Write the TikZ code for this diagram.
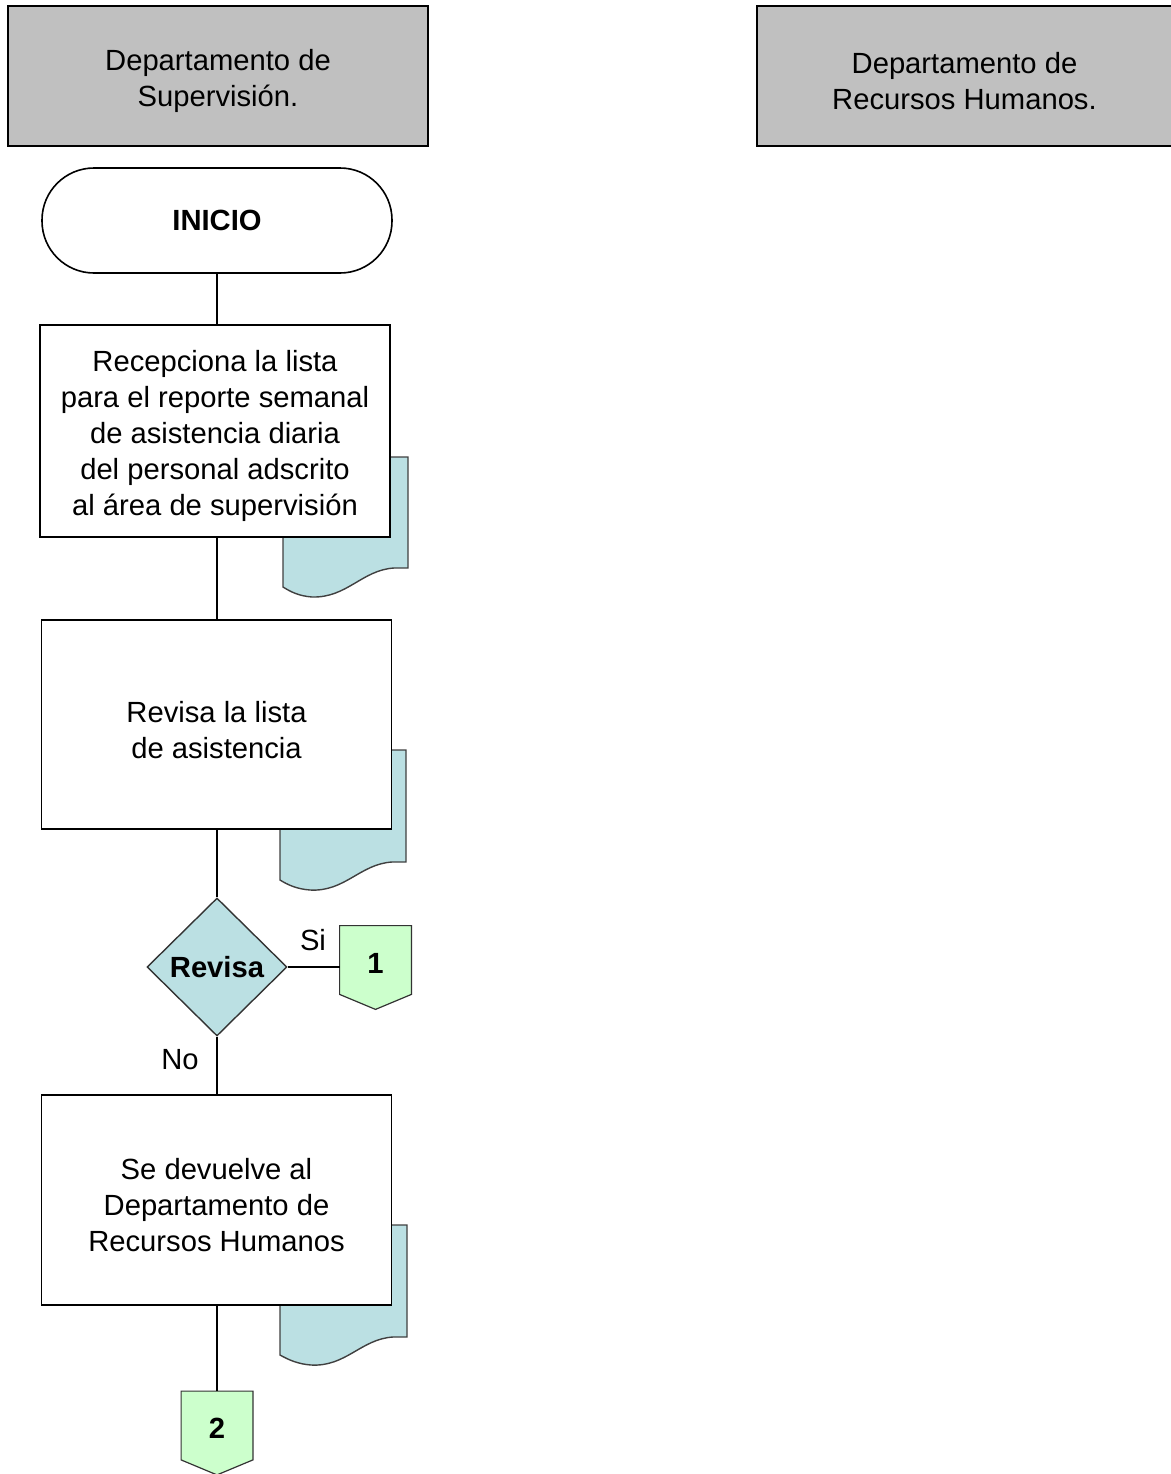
\documentclass[tikz,border=0pt]{standalone}
\usepackage{fontspec}
\setmainfont{Liberation Sans}
\usetikzlibrary{shapes.geometric}
\definecolor{hdrgray}{HTML}{C0C0C0}
\definecolor{docblue}{HTML}{BBE0E3}
\definecolor{offgreen}{HTML}{CCFFCC}

% extra head room on the first line of a block, to sit the text a bit lower
\newcommand\padtop{\rule{0pt}{15.8pt}}

\tikzset{
  txt/.style={font=\fontsize{14.6}{18}\selectfont, align=center},
  header/.style={txt, draw=black, line width=0.9pt, fill=hdrgray, minimum height=70pt, inner sep=0pt},
  procbox/.style={txt, draw=black, line width=0.8pt, fill=white, minimum width=175pt, inner sep=0pt},
  terminal/.style={txt, font=\fontsize{14.6}{18}\selectfont\bfseries, draw=black, line width=0.8pt, fill=white,
    minimum width=175pt, minimum height=52.5pt, rounded corners=26pt, inner sep=0pt},
  decision/.style={txt, font=\fontsize{14.6}{18}\selectfont\bfseries, diamond, draw=black!80, line width=0.7pt,
    fill=docblue, minimum width=70pt, minimum height=69pt, inner sep=0pt},
  docshape/.style={draw=black!75, line width=0.7pt, fill=docblue},
  link/.style={draw=black, line width=0.75pt},
  offpage/.style={draw=black!80, line width=0.6pt, fill=offgreen},
  offlabel/.style={txt, font=\fontsize{14.6}{18}\selectfont\bfseries, minimum width=35.5pt, minimum height=34pt, inner sep=0pt},
  lbl/.style={txt, inner sep=0pt},
}

\begin{document}
\begin{tikzpicture}[x=0.5pt, y=-0.5pt]
  \useasboundingbox (0,0) rectangle (1171,1474);

  % lane headers
  \node[header, minimum width=210pt] (hsup) at (218,76) {\padtop Departamento de\\Supervisión.};
  \node[header, minimum width=207.5pt] (hrh) at (964.5,76) {\padtop Departamento de\\Recursos Humanos.};

  % documents lying behind the process boxes
  \draw[docshape] (283,457) -- (408,457) -- (408,568) -- (394,568)
    .. controls (362,570) and (347,598) .. (312,597)
    .. controls (299,596) and (291,592) .. (283,587) -- cycle;
  \draw[docshape] (280,750) -- (406,750) -- (406,862) -- (392,862)
    .. controls (360,864) and (345,892) .. (310,890)
    .. controls (297,889) and (288,885) .. (280,880) -- cycle;
  \draw[docshape] (280,1225) -- (407,1225) -- (407,1337) -- (393,1337)
    .. controls (361,1339) and (346,1367) .. (311,1365)
    .. controls (298,1364) and (289,1360) .. (280,1355) -- cycle;

  % flow
  \node[terminal] (start) at (217,220.5) {INICIO};
  \node[procbox, minimum height=106pt] (recibe) at (215,431)
    {\padtop Recepciona la lista\\para el reporte semanal\\de asistencia diaria\\del personal adscrito\\al área de supervisión};
  \node[procbox, minimum height=104.5pt] (revisa) at (216.5,724.5) {\padtop Revisa la lista\\de asistencia};
  \node[decision] (dec) at (217,967) {Revisa};
  \node[procbox, minimum height=105pt] (devuelve) at (216.5,1200)
    {\padtop Se devuelve al\\Departamento de\\Recursos Humanos};

  % off-page connectors
  \node[offlabel] (c1) at (375.5,960) {};
  \draw[offpage] (c1.north west) -- (c1.north east) -- (c1.south east)
    -- ([yshift=-7.5pt]c1.south) -- (c1.south west) -- cycle;
  \node[txt, font=\fontsize{14.6}{18}\selectfont\bfseries] (n1) at (375.5,963) {1};

  \node[offlabel] (c2) at (217,1425.5) {};
  \draw[offpage] (c2.north west) -- (c2.north east) -- (c2.south east)
    -- ([yshift=-7.5pt]c2.south) -- (c2.south west) -- cycle;
  \node[txt, font=\fontsize{14.6}{18}\selectfont\bfseries] (n2) at (217,1428) {2};

  % connectors
  \draw[link] (start.south) -- (start.south |- recibe.north);
  \draw[link] (start.south |- recibe.south) -- (start.south |- revisa.north);
  \draw[link] (start.south |- revisa.south) -- (dec.north);
  \draw[link] (dec.east) -- (dec.east -| c1.west);
  \draw[link] (dec.south) -- (dec.south |- devuelve.north);
  \draw[link] (dec.south |- devuelve.south) -- (c2.north);

  % branch labels
  \node[lbl] (si) at (313,940) {Si};
  \node[lbl] (no) at (180,1060) {No};
\end{tikzpicture}
\end{document}
